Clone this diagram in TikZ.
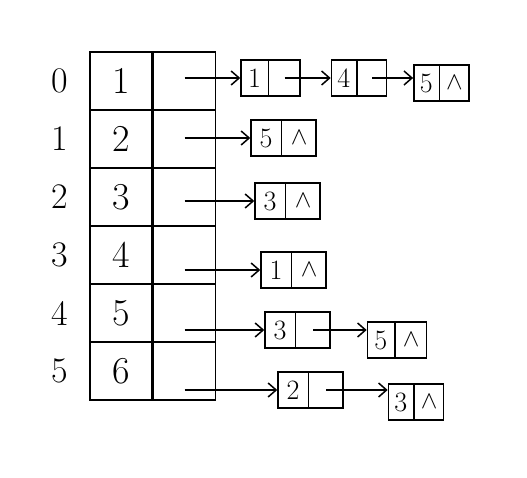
\documentclass[tikz,border=0pt]{standalone}
\usepackage{fontspec}
\usepackage{tikz}
\usetikzlibrary{arrows.meta, positioning, calc, shapes.multipart}

\begin{document}
\begin{tikzpicture}[
    x=1pt, y=-1pt,
    cell/.style={
        rectangle,
        draw,
        line width=1.5pt,
        minimum width=62pt,
        minimum height=58pt,
        font=\fontsize{38}{42}\selectfont
    },
    idx/.style={font=\fontsize{36}{40}\selectfont},
    lnode/.style={
        rectangle split,
        rectangle split horizontal,
        rectangle split parts=2,
        draw,
        line width=1.5pt,
        minimum height=36pt,
        inner xsep=8.5pt,
        font=\fontsize{28}{32}\selectfont
    },
    link/.style={-{Straight Barb[length=8pt,width=14pt]}, line width=1.5pt}
]
    \useasboundingbox (0,0) rectangle (527,478);

    % Head table
    \foreach \r/\v in {0/1, 1/2, 2/3, 3/4, 4/5, 5/6} {
        \node[idx] (i\r) at (60, 81+58*\r) {\r};
        \node[cell] (v\r) at (121, 81+58*\r) {\v};
        \node[cell, right=0pt of v\r] (p\r) {};
    }

    % Row 0: 1 -> 4 -> 5
    \node[lnode, inner xsep=7pt, right=24pt of p0, yshift=3pt] (n01) {1\nodepart{two}\phantom{$\wedge$}};
    \node[lnode, inner xsep=6pt, right=30pt of n01] (n02) {4\nodepart{two}\phantom{$\wedge$}};
    \node[lnode, inner xsep=6pt, right=26pt of n02, yshift=-5pt] (n03) {5\nodepart{two}$\wedge$};

    % Row 1: 5
    \node[lnode, right=34pt of p1, yshift=1pt] (n11) {5\nodepart{two}$\wedge$};

    % Row 2: 3
    \node[lnode, right=38pt of p2, yshift=-4pt] (n21) {3\nodepart{two}$\wedge$};

    % Row 3: 1
    \node[lnode, right=44pt of p3, yshift=-15pt] (n31) {1\nodepart{two}$\wedge$};

    % Row 4: 3 -> 5
    \node[lnode, right=48pt of p4, yshift=-17pt] (n41) {3\nodepart{two}\phantom{$\wedge$}};
    \node[lnode, inner xsep=7pt, right=36pt of n41, yshift=-10pt] (n42) {5\nodepart{two}$\wedge$};

    % Row 5: 2 -> 3
    \node[lnode, right=61pt of p5, yshift=-19pt] (n51) {2\nodepart{two}\phantom{$\wedge$}};
    \node[lnode, inner xsep=6pt, right=44pt of n51, yshift=-12pt] (n52) {3\nodepart{two}$\wedge$};

    % Connections
    \foreach \r in {0,...,5} {
        \draw[link] (p\r.center |- n\r1.west) -- (n\r1.west);
    }
    \draw[link] ($(n01.one split)!0.5!(n01.east)$) -- (n02.west);
    \draw[link] ($(n02.one split)!0.5!(n02.east)$) coordinate (s02) -- (s02 -| n03.west);
    \draw[link] ($(n41.one split)!0.5!(n41.east)$) coordinate (s41) -- (s41 -| n42.west);
    \draw[link] ($(n51.one split)!0.5!(n51.east)$) coordinate (s51) -- (s51 -| n52.west);

\end{tikzpicture}
\end{document}
